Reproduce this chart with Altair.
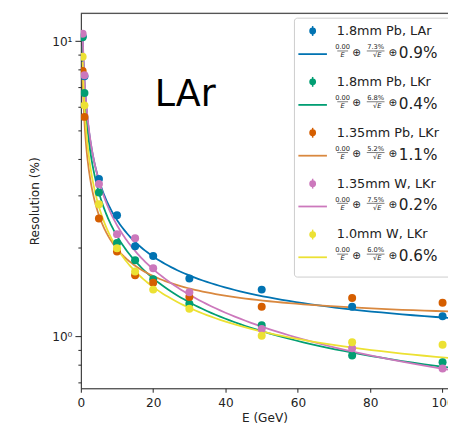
import altair as alt
import pandas as pd
import numpy as np

# ---------------- data ----------------
energies = [0.5, 1, 5, 10, 15, 20, 30, 50, 75, 100]
series = ["1.8mm Pb, LAr", "1.8mm Pb, LKr", "1.35mm Pb, LKr", "1.35mm W, LKr", "1.0mm W, LKr"]
res_pb18_lar = [10.4, 7.6, 3.41, 2.57, 2.02, 1.87, 1.57, 1.44, 1.26, 1.17]
res_pb18_lkr = [10.3, 6.67, 3.07, 2.07, 1.81, 1.56, 1.29, 1.09, 0.862, 0.817]
res_pb135_lkr = [7.92, 5.54, 2.51, 1.94, 1.61, 1.52, 1.36, 1.26, 1.35, 1.30]
res_w135_lkr = [10.6, 7.66, 3.28, 2.22, 2.15, 1.70, 1.41, 1.06, 0.912, 0.778]
res_w10_lkr = [8.85, 6.06, 2.80, 1.99, 1.66, 1.44, 1.24, 1.005, 0.955, 0.936]
all_res = [res_pb18_lar, res_pb18_lkr, res_pb135_lkr, res_w135_lkr, res_w10_lkr]

# fit parameters shown in the legend: noise/E (+) stoch/sqrt(E) (+) const
noise_term = ["0.00", "0.00", "0.00", "0.00", "0.00"]
stoch_term = [7.3, 6.8, 5.2, 7.5, 6.0]
const_term = [0.9, 0.4, 1.1, 0.2, 0.6]

marker_colors = ["#0173B2", "#029E73", "#D55E00", "#CC78BC", "#ECE133"]
line_colors = ["#0173B2", "#029E73", "#D9883F", "#CC78BC", "#ECE133"]

x_ticks = [0, 20, 40, 60, 80, 100]
y_major = [1, 10]
y_minor = [0.7, 0.8, 0.9, 2, 3, 4, 5, 6, 7, 8, 9]
x_title = "E (GeV)"
y_title = "Resolution (%)"
annotation = "LAr"

# ---------------- tables ----------------
pts = pd.DataFrame([
    {"E": e, "res": r, "series": s, "col": c}
    for s, vals, c in zip(series, all_res, marker_colors)
    for e, r in zip(energies, vals)
])

fit_E = np.geomspace(0.5, 101.5, 160)
fit = pd.DataFrame([
    {"E": float(e), "res": float(np.sqrt((a / np.sqrt(e)) ** 2 + c ** 2)), "series": s, "col": lc}
    for s, a, c, lc in zip(series, stoch_term, const_term, line_colors)
    for e in fit_E
])

leg = pd.DataFrame({
    "label": series,
    "noise": noise_term,
    "a": [f"{v}%" for v in stoch_term],
    "c": [f"{v}%" for v in const_term],
    "mcol": marker_colors,
    "lcol": line_colors,
})
leg["ym"] = [18 + 51.7 * i for i in range(len(series))]
leg["yl"] = [41.5 + 51.6 * i for i in range(len(series))]
leg["ym_lo"] = leg["ym"] - 5
leg["ym_hi"] = leg["ym"] + 5
leg["yl_num"] = leg["yl"] - 7
leg["yl_bar"] = leg["yl"] - 3.2
leg["yl_den"] = leg["yl"] + 1.2
leg["yl_op"] = leg["yl"] - 1.5
leg["yl_c"] = leg["yl"] - 1

W, H = 373, 381
FONT = "DejaVu Sans"
xscale = alt.Scale(domain=[0, 101.5], nice=False)
yscale = alt.Scale(type="log", domain=[0.667, 12.43], nice=False)

x_axis = alt.Axis(values=x_ticks, title=x_title, grid=False, tickSize=4,
                  labelFontSize=12.3, titleFontSize=12.3, labelPadding=4, titlePadding=3,
                  labelColor="#222", titleColor="#222", titleFontWeight="normal",
                  domainColor="#222", tickColor="#222", labelFlush=False)

lines = alt.Chart(fit).mark_line(strokeWidth=1.8, clip=True).encode(
    x=alt.X("E:Q", scale=xscale, axis=x_axis),
    y=alt.Y("res:Q", scale=yscale,
            axis=alt.Axis(values=y_major, orient="left", grid=False, tickSize=6,
                          labelExpr="datum.value == 10 ? '10¹' : '10⁰'",
                          labelFontSize=12.3, labelColor="#222", labelPadding=3,
                          title=y_title, titleFontSize=12.3, titleFontWeight="normal",
                          titleColor="#222", titlePadding=10,
                          domainColor="#222", tickColor="#222")),
    color=alt.Color("col:N", scale=None),
    detail="series:N",
)

points = alt.Chart(pts).mark_circle(size=66, opacity=1, clip=True).encode(
    x=alt.X("E:Q", scale=xscale, axis=x_axis),
    y=alt.Y("res:Q", scale=yscale,
            axis=alt.Axis(values=y_minor, orient="left", grid=False, tickSize=3,
                          labels=False, domain=False, title=None, tickColor="#222")),
    color=alt.Color("col:N", scale=None),
)

one = pd.DataFrame({"k": [0]})
top_spine = alt.Chart(one).mark_rule(color="#222", strokeWidth=1).encode(
    x=alt.value(0), x2=alt.value(W + 10), y=alt.value(0))

label_lar = alt.Chart(one).mark_text(fontSize=37, font=FONT, align="left",
                                     baseline="alphabetic", color="black").encode(
    x=alt.value(75), y=alt.value(94), text=alt.value(annotation))

box = alt.Chart(one).mark_rect(fill="white", fillOpacity=0.85, stroke="#cccccc",
                               strokeWidth=1, cornerRadius=3).encode(
    x=alt.value(217), x2=alt.value(420), y=alt.value(5), y2=alt.value(268))

ypx = lambda f: alt.Y(f"{f}:Q", scale=None, axis=None)

leg_err = alt.Chart(leg).mark_rule(strokeWidth=1.5).encode(
    x=alt.value(235.5), y=ypx("ym_lo"), y2=alt.Y2("ym_hi:Q"),
    color=alt.Color("mcol:N", scale=None))
leg_mark = alt.Chart(leg).mark_circle(size=48, opacity=1).encode(
    x=alt.value(235.5), y=ypx("ym"), color=alt.Color("mcol:N", scale=None))
leg_line = alt.Chart(leg).mark_rule(strokeWidth=1.8).encode(
    x=alt.value(221), x2=alt.value(250), y=ypx("yl"), color=alt.Color("lcol:N", scale=None))
leg_text = alt.Chart(leg).mark_text(fontSize=13, font=FONT, align="left",
                                    baseline="middle", color="#222").encode(
    x=alt.value(260), y=ypx("ym"), text="label:N")

small = dict(fontSize=6.8, font=FONT, align="center", baseline="middle", color="#222")
num1 = alt.Chart(leg).mark_text(**small).encode(x=alt.value(266), y=ypx("yl_num"), text="noise:N")
bar1 = alt.Chart(leg).mark_rule(color="#222", strokeWidth=0.6).encode(
    x=alt.value(260.5), x2=alt.value(271.5), y=ypx("yl_bar"))
den1 = alt.Chart(leg).mark_text(fontStyle="italic", **small).encode(
    x=alt.value(266), y=ypx("yl_den"), text=alt.value("E"))
op1 = alt.Chart(leg).mark_text(fontSize=10.5, font=FONT, align="center", baseline="middle",
                               color="#222").encode(x=alt.value(280), y=ypx("yl_op"), text=alt.value("⊕"))
num2 = alt.Chart(leg).mark_text(**small).encode(x=alt.value(299.5), y=ypx("yl_num"), text="a:N")
bar2 = alt.Chart(leg).mark_rule(color="#222", strokeWidth=0.6).encode(
    x=alt.value(290.5), x2=alt.value(308.5), y=ypx("yl_bar"))
den2 = alt.Chart(leg).mark_text(fontStyle="italic", **small).encode(
    x=alt.value(301), y=ypx("yl_den"), text=alt.value("√E"))
op2 = alt.Chart(leg).mark_text(fontSize=10.5, font=FONT, align="center", baseline="middle",
                               color="#222").encode(x=alt.value(317), y=ypx("yl_op"), text=alt.value("⊕"))
cterm = alt.Chart(leg).mark_text(fontSize=15.5, font=FONT, align="left", baseline="middle",
                                 color="#222").encode(x=alt.value(323), y=ypx("yl_c"), text="c:N")

chart = alt.layer(
    lines, points, top_spine, label_lar, box,
    leg_err, leg_mark, leg_line, leg_text,
    num1, bar1, den1, op1, num2, bar2, den2, op2, cterm,
).resolve_axis(y="independent").properties(
    width=W, height=H,
    autosize=alt.AutoSizeParams(type="none"),
    padding={"left": 74, "top": 2, "right": 0, "bottom": 38},
).configure_view(stroke=None).configure(font=FONT, background="white")

chart.save("out.html", embed_options={"renderer": "svg", "actions": False})
